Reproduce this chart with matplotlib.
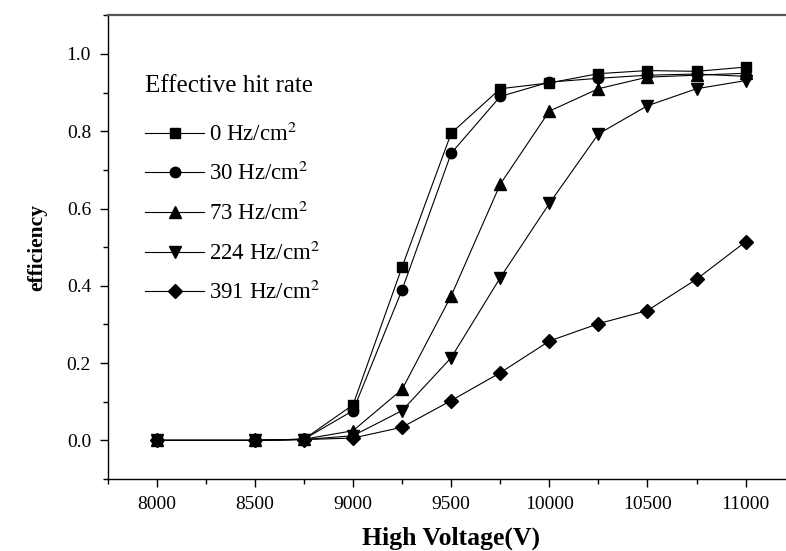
import matplotlib
matplotlib.use("Agg")
import matplotlib.pyplot as plt
from matplotlib.ticker import MultipleLocator

plt.rcParams['font.family'] = ['Liberation Serif', 'DejaVu Serif']
plt.rcParams['mathtext.fontset'] = 'stix'

voltage = [8000, 8500, 8750, 9000, 9250, 9500, 9750, 10000, 10250, 10500, 10750, 11000]
eff_0 = [0.0, 0.0, 0.003, 0.092, 0.449, 0.795, 0.910, 0.925, 0.949, 0.957, 0.955, 0.966]
eff_30 = [0.0, 0.0, 0.003, 0.077, 0.390, 0.743, 0.890, 0.927, 0.937, 0.945, 0.948, 0.942]
eff_73 = [0.0, 0.0, 0.003, 0.025, 0.132, 0.374, 0.663, 0.852, 0.910, 0.940, 0.945, 0.950]
eff_224 = [0.0, 0.0, 0.002, 0.012, 0.077, 0.214, 0.421, 0.613, 0.793, 0.866, 0.910, 0.931]
eff_391 = [0.0, 0.0, 0.002, 0.006, 0.034, 0.103, 0.175, 0.257, 0.302, 0.336, 0.417, 0.514]
labels = [r"0 Hz/cm$^2$", r"30 Hz/cm$^2$", r"73 Hz/cm$^2$", r"224 Hz/cm$^2$", r"391 Hz/cm$^2$"]
legend_title = "Effective hit rate"
x_label = "High Voltage(V)"
y_label = "efficiency"

series = [eff_0, eff_30, eff_73, eff_224, eff_391]
markers = ['s', 'o', '^', 'v', 'D']
msizes = [7.5, 7.5, 8.5, 8.5, 7]

fig = plt.figure(figsize=(7.86, 5.51), dpi=100)
W, H = 786, 551
left, right, top, bottom = 107.7, 794.7, 15.3, 479.0
ax = fig.add_axes([left / W, 1 - bottom / H, (right - left) / W, (bottom - top) / H])

for ys, m, ms, lab in zip(series, markers, msizes, labels):
    ax.plot(voltage, ys, color='black', lw=0.8, marker=m, markersize=ms,
            markerfacecolor='black', markeredgecolor='black', label=lab)

ax.set_xlim(7750, 11250)
ax.set_ylim(-0.1, 1.1)
ax.xaxis.set_major_locator(MultipleLocator(500))
ax.xaxis.set_minor_locator(MultipleLocator(250))
ax.yaxis.set_major_locator(MultipleLocator(0.2))
ax.yaxis.set_minor_locator(MultipleLocator(0.1))
ax.yaxis.set_major_formatter(matplotlib.ticker.FormatStrFormatter('%.1f'))

ax.tick_params(which='major', direction='out', length=6, width=1, labelsize=14, pad=6)
ax.tick_params(which='minor', direction='out', length=3.5, width=1)
ax.spines['right'].set_visible(False)
ax.spines['top'].set_color('#555555')
ax.spines['top'].set_linewidth(1.6)
for s in ['left', 'bottom']:
    ax.spines[s].set_linewidth(1.0)

ax.set_xlabel(x_label, fontsize=18.5, fontweight='bold', labelpad=10)
ax.set_ylabel(y_label, fontsize=15.5, fontweight='bold', labelpad=14)

leg = ax.legend(loc='upper left', bbox_to_anchor=(0.054, 0.872), frameon=False,
                title=legend_title, title_fontsize=18, fontsize=16.5,
                alignment='left', handlelength=2.6, handletextpad=0.18,
                labelspacing=0.72, borderaxespad=0, borderpad=0)
leg._legend_box.sep = 18.5

fig.savefig("out.png", dpi=100)
